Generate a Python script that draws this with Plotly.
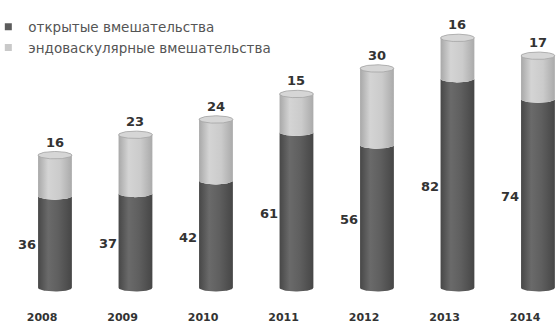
import numpy as np
import plotly.graph_objects as go

# Operations per year: open surgery vs endovascular procedures
years = ["2008", "2009", "2010", "2011", "2012", "2013", "2014"]
open_surgery = [36, 37, 42, 61, 56, 82, 74]
endovascular = [16, 23, 24, 15, 30, 16, 17]
series_names = ["открытые вмешательства", "эндоваскулярные вмешательства"]

FONT = "DejaVu Sans, Verdana, sans-serif"
TEXT = "#333333"
DARK = "#5c5c5c"
LIGHT = "#c9c9c9"

HALF_W = 0.21   # cylinder half-width (x units)
RIM = 1.45      # ellipse semi-minor axis (y units)
t = np.linspace(0, np.pi, 40)

dark_scale = [[0, "#474747"], [0.3, "#6a6a6a"], [0.6, "#5f5f5f"], [1, "#464646"]]
light_scale = [[0, "#a8a8a8"], [0.3, "#d4d4d4"], [0.65, "#cbcbcb"], [1, "#aaaaaa"]]

fig = go.Figure()

for i, (o, e) in enumerate(zip(open_surgery, endovascular)):
    cx = i
    total = o + e
    # lower segment: front face between bottom rim and the boundary arc
    xs = np.concatenate([cx - HALF_W * np.cos(t), cx + HALF_W * np.cos(t)])
    ys = np.concatenate([o - RIM * np.sin(t), 0 - RIM * np.sin(t)])
    fig.add_trace(go.Scatter(
        x=np.append(xs, xs[0]), y=np.append(ys, ys[0]), mode="lines",
        fill="toself", line=dict(width=0, color=DARK),
        fillgradient=dict(type="horizontal", colorscale=dark_scale),
        showlegend=False, hoverinfo="skip"))
    # upper segment: from the boundary arc up to the top rim
    xs = np.concatenate([cx - HALF_W * np.cos(t), cx + HALF_W * np.cos(t)])
    ys = np.concatenate([o - RIM * np.sin(t), total + RIM * np.sin(t)])
    fig.add_trace(go.Scatter(
        x=np.append(xs, xs[0]), y=np.append(ys, ys[0]), mode="lines",
        fill="toself", line=dict(width=0, color=LIGHT),
        fillgradient=dict(type="horizontal", colorscale=light_scale),
        showlegend=False, hoverinfo="skip"))
    # top cap
    a = np.linspace(0, 2 * np.pi, 80)
    fig.add_trace(go.Scatter(
        x=cx + HALF_W * np.cos(a), y=total + RIM * np.sin(a), mode="lines",
        fill="toself", fillcolor="#d6d6d6", line=dict(width=0.8, color="#a5a5a5"),
        showlegend=False, hoverinfo="skip"))

    fig.add_annotation(x=cx, y=total, text=str(e), showarrow=False,
                       yanchor="middle", yshift=13,
                       font=dict(family=FONT, size=13, color=TEXT, weight="bold"))
    fig.add_annotation(x=cx - HALF_W, y=o / 2, text=str(o), showarrow=False,
                       xanchor="right", yanchor="middle", xshift=0, yshift=-3,
                       font=dict(family=FONT, size=13, color=TEXT, weight="bold"))

# legend entries
for name, col in zip(series_names, [DARK, LIGHT]):
    fig.add_trace(go.Scatter(x=[None], y=[None], mode="markers", name=name,
                             marker=dict(symbol="square", size=7, color=col)))

fig.update_layout(
    width=556, height=324,
    margin=dict(l=0, r=0, t=13, b=26, autoexpand=False),
    paper_bgcolor="white", plot_bgcolor="white",
    font=dict(family=FONT, color=TEXT),
    legend=dict(x=-0.021, y=1.005, xanchor="left", yanchor="top",
                tracegroupgap=0,
                font=dict(family=FONT, size=13.5, color="#555555"),
                bgcolor="rgba(0,0,0,0)", itemwidth=30),
    xaxis=dict(range=[-0.683, 6.224], showgrid=False, zeroline=False,
               showline=False, ticks="",
               tickvals=[i - 0.16 for i in range(len(years))], ticktext=years,
               tickfont=dict(family=FONT, size=11, color=TEXT, weight="bold"),
               ticklabelstandoff=11, fixedrange=True),
    yaxis=dict(range=[-4, 107.76], visible=False, fixedrange=True),
)

fig.write_html("out.html")
